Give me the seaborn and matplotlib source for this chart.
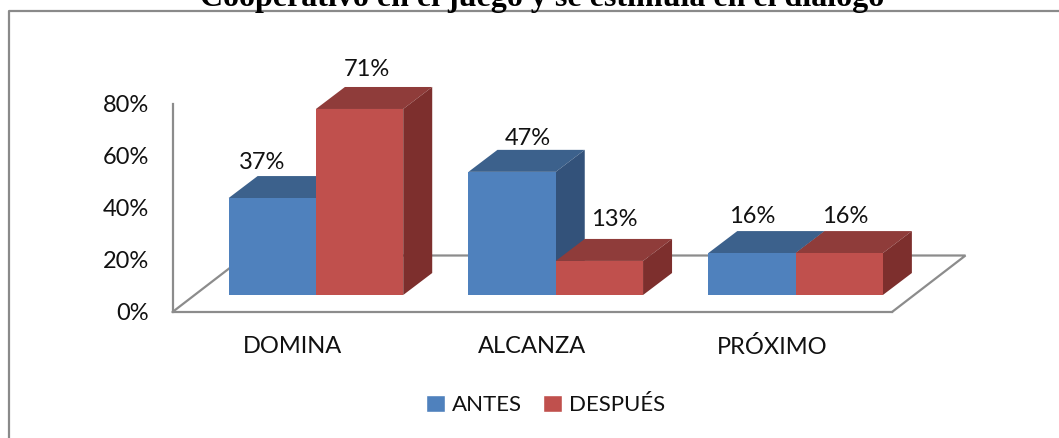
import matplotlib
matplotlib.use("Agg")
import matplotlib.pyplot as plt
import pandas as pd
import seaborn as sns
from matplotlib.lines import Line2D
from matplotlib.patches import Polygon, Rectangle

categories = ["DOMINA", "ALCANZA", "PRÓXIMO"]
antes = [0.37, 0.47, 0.16]
despues = [0.71, 0.13, 0.16]
series_names = ["ANTES", "DESPUÉS"]
y_ticks = [0, 0.2, 0.4, 0.6, 0.8]
title_text = "Cooperativo en el juego y se estimula en el diálogo"

W, H = 1059, 438
FRONT = {"ANTES": "#4f81bd", "DESPUÉS": "#c0504d"}
TOP = {"ANTES": "#3c618c", "DESPUÉS": "#8f3c3a"}
SIDE = {"ANTES": "#33527a", "DESPUÉS": "#7d2f2d"}
GRAY = "#8c8c8c"
TEXT = "#111111"
FONT_SIZE = 17
DEPTH_PX = (29, 22)
FLOOR_PX = (73.5, 56.5)
# the labels are not placed evenly in the original, pixels from the front centre / back top of each bar
LABEL_NUDGE_PX = [(-10, 13.5), (15.5, 11), (0, 15), (7.5, 17), (15, 19), (6, 15)]


def px_axes(left, right, bottom, top):
    return fig.add_axes([left / W, 1 - bottom / H, (right - left) / W, (bottom - top) / H])


sns.set_style("white")
plt.rcParams["font.family"] = ["Lato", "DejaVu Sans"]

df = pd.DataFrame({
    "categoria": categories * 2,
    "serie": [series_names[0]] * 3 + [series_names[1]] * 3,
    "valor": antes + despues,
})

fig = plt.figure(figsize=(W / 100, H / 100), dpi=100)

# outer frame of the chart, only top and left are inside the picture
fig.add_artist(Line2D([8.5 / W, 8.5 / W, 1], [0, 1 - 11 / H, 1 - 11 / H], transform=fig.transFigure,
                      color="#8a8a8a", linewidth=1.6))

# axis layer: y labels and the floor of the 3d box
ax = px_axes(172.5, 892, 312, 104)
ax.set_xlim(-0.5, 2.5)
ax.set_ylim(0, 0.8)
ax.set_xticks(range(3), categories)
ax.set_yticks(y_ticks, ["{:.0f}%".format(v * 100) for v in y_ticks])
ax.tick_params(axis="both", length=0, labelsize=FONT_SIZE, colors=TEXT)
ax.tick_params(axis="x", pad=17)
ax.tick_params(axis="y", pad=17)
ax.patch.set_alpha(0)
for s in ["top", "right"]:
    ax.spines[s].set_visible(False)
for s in ["left", "bottom"]:
    ax.spines[s].set_color(GRAY)
    ax.spines[s].set_linewidth(1.6)

# bar layer, the bars sit inside the floor so their zero is further back
bx = px_axes(196, 915.5, 295, 295 - 0.8 * 262)
sns.barplot(data=df, x="categoria", y="valor", hue="serie", order=categories, hue_order=series_names,
            palette=FRONT, width=0.728, gap=0, saturation=1, legend=False, linewidth=0, ax=bx)
bx.set_xlim(-0.5, 2.5)
bx.set_ylim(0, 0.8)
bx.axis("off")
bx.patch.set_alpha(0)

dx = DEPTH_PX[0] * 3 / 719.5
dy = DEPTH_PX[1] / 262
bars = [p for p in bx.patches if p.get_height() > 0]
names = [series_names[0]] * 3 + [series_names[1]] * 3
values = antes + despues
for i, (p, name, v) in enumerate(zip(bars, names, values)):
    z = 3 + i // 3
    x0, x1 = p.get_x(), p.get_x() + p.get_width()
    p.set_zorder(z + 0.1)
    bx.add_patch(Polygon([(x0, v), (x1, v), (x1 + dx, v + dy), (x0 + dx, v + dy)],
                         facecolor=TOP[name], edgecolor="none", zorder=z, clip_on=False))
    bx.add_patch(Polygon([(x1, 0), (x1, v), (x1 + dx, v + dy), (x1 + dx, dy)],
                         facecolor=SIDE[name], edgecolor="none", zorder=z, clip_on=False))
    nudge = LABEL_NUDGE_PX[i]
    bx.annotate("{:.0f}%".format(v * 100), ((x0 + x1) / 2, v + dy), xytext=(nudge[0] * 0.72, nudge[1] * 0.72),
                textcoords="offset points", ha="center", va="center", fontsize=FONT_SIZE,
                color=TEXT, zorder=10, annotation_clip=False)

# floor outline behind the bars
fx = FLOOR_PX[0] * 3 / 719.5
fy = FLOOR_PX[1] * 0.8 / 208
ax.plot([-0.5, -0.5 + fx, 2.5 + fx, 2.5], [0, fy, fy, 0], color=GRAY, linewidth=1.6,
        clip_on=False, solid_joinstyle="miter")

handles = [Rectangle((0, 0), 1, 1, facecolor=FRONT[n]) for n in series_names]
fig.legend(handles, series_names, loc="center", bbox_to_anchor=(545.5 / W, 1 - 405 / H), ncol=2,
           frameon=False, fontsize=16, handlelength=0.85, handleheight=0.85, handletextpad=0.3,
           columnspacing=0.95, labelcolor=TEXT)

fig.text(542 / W, 1 - 6 / H, title_text, ha="center", va="baseline", family="Liberation Serif",
         fontweight="bold", fontsize=23, color="black")

fig.savefig("out.png", dpi=100)
